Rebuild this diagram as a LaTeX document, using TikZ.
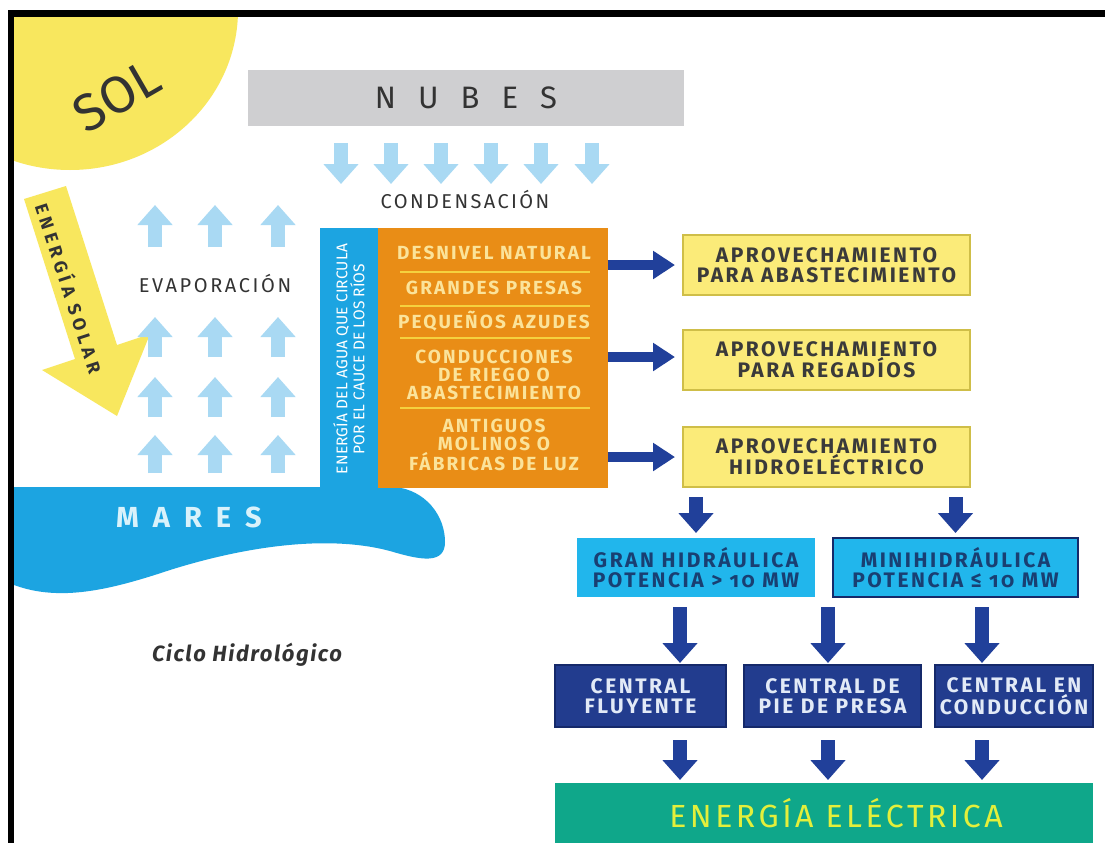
\documentclass[tikz,border=0pt]{standalone}
\usepackage{fontspec}
\setmainfont{Fira Sans}[Numbers=OldStyle]
\usetikzlibrary{arrows.meta,calc}
\newcommand\fs[2]{\fontsize{#1}{#2}\selectfont}
\newcommand\ls[1]{\addfontfeature{LetterSpace=#1}}
\definecolor{sunY}{HTML}{F8E75E}
\definecolor{cloudG}{HTML}{CFCFD1}
\definecolor{lightA}{HTML}{A9D9F3}
\definecolor{blueC}{HTML}{1CA4E1}
\definecolor{orangeC}{HTML}{E98D16}
\definecolor{otextC}{HTML}{FBE39A}
\definecolor{sepC}{HTML}{F5D13E}
\definecolor{navyA}{HTML}{21409A}
\definecolor{yboxF}{HTML}{FBEB79}
\definecolor{yboxD}{HTML}{CFBE48}
\definecolor{yboxT}{HTML}{3A3A3A}
\definecolor{lboxF}{HTML}{21B6EC}
\definecolor{lboxT}{HTML}{193F72}
\definecolor{cboxF}{HTML}{223C8E}
\definecolor{cboxD}{HTML}{15296A}
\definecolor{cboxT}{HTML}{E2EAF7}
\definecolor{greenF}{HTML}{0FA78A}
\definecolor{greenT}{HTML}{E3EF3B}
\definecolor{darkT}{HTML}{333333}
\definecolor{maresT}{HTML}{D9F2FB}
\tikzset{
  navyright/.style={draw=navyA, line width=10pt, -{Triangle[width=27pt,length=22pt]}},
  navydown/.style={draw=navyA, line width=14pt, -{Triangle[width=34pt,length=20pt]}},
  lbarrow/.style={draw=lightA, line width=14pt, -{Triangle[width=34pt,length=20pt]}},
  ybox/.style={fill=yboxF, draw=yboxD, line width=1.2pt, minimum width=287pt, minimum height=60pt, align=center, text=yboxT, font=\bfseries\fs{21}{19.5}\ls{12}},
  lbox/.style={fill=lboxF, minimum height=59pt, align=center, text=lboxT, font=\bfseries\fs{21}{20}\ls{12}},
  cbox/.style={fill=cboxF, draw=cboxD, line width=1.2pt, minimum height=62pt, align=center, text=cboxT, font=\bfseries\fs{21}{19.5}\ls{12}},
  otext/.style={text=otextC, align=center, font=\bfseries\fs{19}{18}\ls{11}},
  sepline/.style={draw=sepC, line width=1.5pt},
  lbl/.style={text=darkT}
}
\begin{document}
\begin{tikzpicture}[x=1pt,y=-1pt, every node/.style={inner sep=0pt, outer sep=0pt}]
\useasboundingbox (0,0) rectangle (1105,843);
\fill[white] (0,0) rectangle (1105,843);

% sun
\begin{scope}
\clip (14,17) rectangle (600,600);
\fill[sunY] (70,10) ellipse [x radius=168pt, y radius=160pt];
\end{scope}
\node[rotate=30, text=darkT, font=\fs{52}{52}] (sol) at (117,96) {SOL};

% solar energy arrow
\fill[sunY] (24,199) -- (66,186) -- (117,345) -- (150,334) -- (117,416) -- (42,370) -- (75,359) -- cycle;
\node[rotate=-72, text=darkT, font=\bfseries\fs{18}{18}\ls{25}] (esolar) at (70,288) {ENERGÍA SOLAR};

% clouds
\node[fill=cloudG, minimum width=436pt, minimum height=56pt, text=darkT, font=\fs{31}{31}] (nubes) at (466,98)
  {\raisebox{-3pt}{N\hspace{22pt}U\hspace{22pt}B\hspace{22pt}E\hspace{22pt}S}};

% condensation arrows
\foreach \x in {341,391,441,491,541,592} \draw[lbarrow] (\x,143) -- (\x,184);
\node[lbl, font=\fs{20}{20}\ls{12}] (cond) at (465,200) {CONDENSACIÓN};

% evaporation arrows
\foreach \x in {155,215,278} {
  \draw[lbarrow] (\x,247) -- (\x,205);
  \draw[lbarrow] (\x,357) -- (\x,317);
  \draw[lbarrow] (\x,417) -- (\x,377);
  \draw[lbarrow] (\x,473) -- (\x,435);
}
\node[lbl, font=\fs{20}{20}\ls{13}] (evap) at (215,284) {EVAPORACIÓN};

% seas
\fill[blueC] (14,487) -- (395,487) .. controls (425,490) and (445,515) .. (445,542)
  .. controls (445,565) and (420,560) .. (390,551)
  .. controls (330,535) and (250,545) .. (170,570)
  .. controls (110,590) and (60,602) .. (14,585) -- cycle;
\node[text=maresT, font=\bfseries\fs{29}{29}] (mares) at (189,517) {M\hspace{14pt}A\hspace{14pt}R\hspace{14pt}E\hspace{14pt}S};

% river bar
\node[fill=blueC, minimum width=58pt, minimum height=262pt] (bar) at (349,359) {};
\node[rotate=90, align=center, text=white, font=\fs{15.5}{17}\ls{1}] (bartext) at (bar.center) {ENERGÍA DEL AGUA QUE CIRCULA\\POR EL CAUCE DE LOS RÍOS};

% orange box
\node[fill=orangeC, minimum width=230pt, minimum height=260pt] (orange) at (492.5,358) {};
\draw[sepline] (400,272) -- (590,272);
\draw[sepline] (400,306) -- (590,306);
\draw[sepline] (400,338) -- (590,338);
\draw[sepline] (400,408) -- (590,408);
\node[otext] (o1) at (494,253) {DESNIVEL NATURAL};
\node[otext] (o2) at (494,288) {GRANDES PRESAS};
\node[otext] (o3) at (494,321) {PEQUEÑOS AZUDES};
\node[otext] (o4) at (494,375) {CONDUCCIONES\\DE RIEGO O\\ABASTECIMIENTO};
\node[otext] (o5) at (494,445) {ANTIGUOS\\MOLINOS O\\FÁBRICAS DE LUZ};

% yellow boxes
\node[ybox] (Y1) at (826.5,265) {APROVECHAMIENTO\\PARA ABASTECIMIENTO};
\node[ybox] (Y2) at (826.5,360) {APROVECHAMIENTO\\PARA REGADÍOS};
\node[ybox] (Y3) at (826.5,457) {APROVECHAMIENTO\\HIDROELÉCTRICO};
\draw[navyright, shorten >=8pt] (orange.east |- Y1.west) -- (Y1.west);
\draw[navyright, shorten >=8pt] ([yshift=3pt]orange.east |- Y2.west) -- ([yshift=3pt]Y2.west);
\draw[navyright, shorten >=8pt] (orange.east |- Y3.west) -- (Y3.west);

% light blue boxes
\node[lbox, minimum width=238pt] (L1) at (696,567.5) {GRAN HIDRÁULICA\\POTENCIA > 10 MW};
\node[lbox, minimum width=245pt, draw=cboxD, line width=2pt] (L2) at (955.5,567.5) {MINIHIDRÁULICA\\POTENCIA ≤ 10 MW};
\draw[navydown, shorten <=10pt, shorten >=5pt] (L1.north |- Y3.south) -- (L1.north);
\draw[navydown, shorten <=10pt, shorten >=5pt] (L2.north |- Y3.south) -- (L2.north);

% centrals
\node[cbox, minimum width=171pt] (C1) at (640.5,696) {CENTRAL\\FLUYENTE};
\node[cbox, minimum width=177pt] (C2) at (832.5,696) {CENTRAL DE\\PIE DE PRESA};
\node[cbox, minimum width=158pt] (C3) at (1014,696) {CENTRAL EN\\CONDUCCIÓN};
\coordinate (c1in) at ($(C1.north)+(39.5,0)$);
\coordinate (c2in) at ($(C2.north)+(-4.5,0)$);
\coordinate (c3in) at ($(C3.north)+(-32,0)$);
\draw[navydown, shorten <=10pt, shorten >=2pt] (c1in |- L1.south) -- (c1in);
\draw[navydown, shorten <=10pt, shorten >=2pt] (c2in |- L1.south) -- (c2in);
\draw[navydown, shorten <=10pt, shorten >=2pt] (c3in |- L2.south) -- (c3in);

% electric energy
\node[fill=greenF, minimum width=538pt, minimum height=60pt, text=greenT, font=\fs{32}{32}\ls{11}] (G) at (824,813) {\hspace*{24pt}ENERGÍA ELÉCTRICA};
\draw[navydown, shorten <=13pt, shorten >=3pt] (c1in |- C1.south) -- (c1in |- G.north);
\draw[navydown, shorten <=13pt, shorten >=3pt] (c2in |- C2.south) -- (c2in |- G.north);
\draw[navydown, shorten <=13pt, shorten >=3pt] (c3in |- C3.south) -- (c3in |- G.north);

% caption
\node[lbl, font=\bfseries\itshape\fs{22}{22}\ls{7}] (ciclo) at (247,655) {Ciclo Hidrológico};

% frame
\fill[black] (8,10) rectangle (1105,17);
\fill[black] (8,10) rectangle (14,843);
\end{tikzpicture}
\end{document}
